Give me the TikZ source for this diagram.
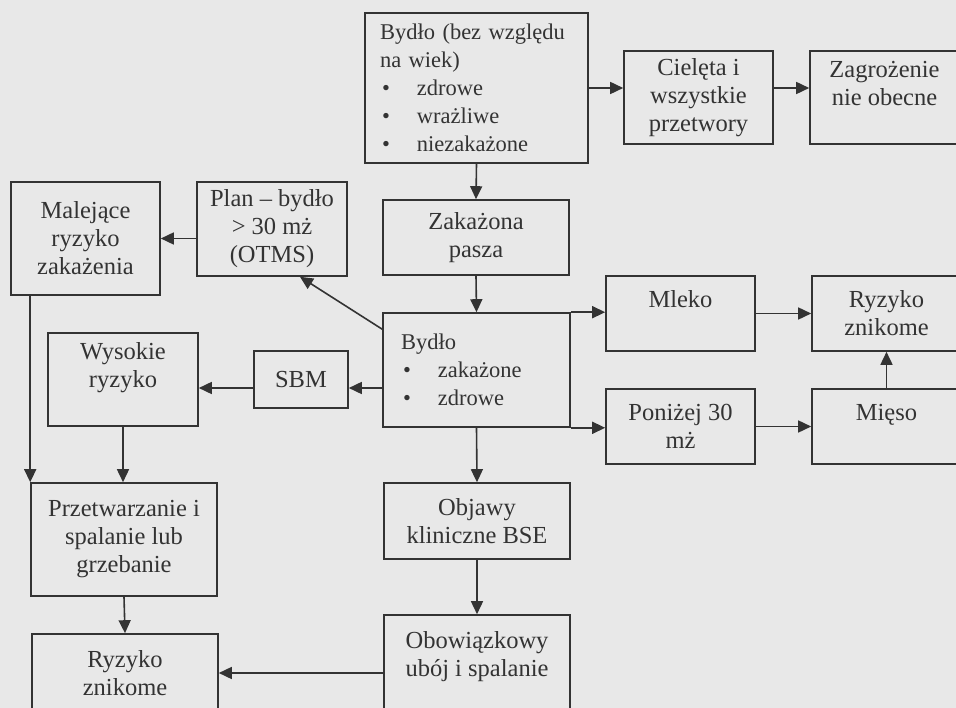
\documentclass[tikz,border=0pt]{standalone}
\usepackage{fontspec}
\setmainfont{Liberation Serif}
\usetikzlibrary{arrows.meta,calc}
\definecolor{papier}{gray}{0.91}
\definecolor{tusz}{gray}{0.2}
\newcommand{\pkt}{\makebox[37pt][l]{\hspace{2pt}\textbullet}}
\newcommand{\tekst}{\fontsize{24.5pt}{28pt}\selectfont}
\newcommand{\tekstmaly}{\fontsize{22.5pt}{28pt}\selectfont}

\begin{document}
\begin{tikzpicture}[x=1pt, y=-1pt, >={Triangle[length=13pt,width=12pt]},
  pole/.style={draw=tusz, line width=1.6pt, fill=papier, text=tusz, font=\tekst, align=center, inner sep=0pt},
  lista/.style={pole, font=\tekstmaly, align=left},
  strz/.style={->, draw=tusz, line width=1.6pt}]
  \clip (0,0) rectangle (956,708);
  \fill[papier] (0,0) rectangle (956,708);

  % srodkowa kolumna
  \node[lista, minimum width=223pt, minimum height=150pt, text width=193pt, inner xsep=15pt] (bydlo) at (476.5,88)
    {Bydło (bez względu\\na wiek)\\\pkt zdrowe\\\pkt wrażliwe\\\pkt niezakażone};
  \node[pole, minimum width=186pt, minimum height=75pt] (pasza) at (476,237.5) {Zakażona\\pasza};
  \node[lista, minimum width=187pt, minimum height=114pt, text width=151pt, inner xsep=18pt] (chore) at (476.5,370)
    {Bydło\\\pkt zakażone\\\pkt zdrowe};
  \node[pole, minimum width=186pt, minimum height=76pt] (objawy) at (477,521) {Objawy\\kliniczne BSE};
  \node[pole, minimum width=186pt, minimum height=106pt] (uboj) at (477,668) {Obowiązkowy\\ubój i spalanie\\\mbox{}};

  % prawa strona
  \node[pole, minimum width=149pt, minimum height=93pt] (cieleta) at (698.5,97.5) {Cielęta i\\wszystkie\\przetwory};
  \node[pole, minimum width=149pt, minimum height=93pt] (brak) at (884.5,97.5) {Zagrożenie\\nie obecne\\\mbox{}};
  \node[pole, minimum width=149pt, minimum height=75pt] (mleko) at (680.5,313.5) {Mleko\\\mbox{}};
  \node[pole, minimum width=149pt, minimum height=75pt] (znik1) at (886.5,313.5) {Ryzyko\\znikome};
  \node[pole, minimum width=149pt, minimum height=75pt] (mlode) at (680.5,426.5) {Poniżej 30\\mż};
  \node[pole, minimum width=149pt, minimum height=75pt] (mieso) at (886.5,426.5) {Mięso\\\mbox{}};

  % lewa strona
  \node[pole, minimum width=149pt, minimum height=113pt] (malej) at (85.5,238.5) {Malejące\\ryzyko\\zakażenia};
  \node[pole, minimum width=150pt, minimum height=94pt] (plan) at (272,229) {Plan – bydło\\> 30 mż\\(OTMS)};
  \node[pole, minimum width=94pt, minimum height=57pt] (sbm) at (301,379.5) {SBM};
  \node[pole, minimum width=150pt, minimum height=93pt] (wysokie) at (123,379.5) {Wysokie\\ryzyko\\\mbox{}};
  \node[pole, minimum width=186pt, minimum height=113pt] (spalanie) at (124,539.5) {Przetwarzanie i\\spalanie lub\\grzebanie};
  \node[pole, minimum width=186pt, minimum height=78pt] (znik2) at (125,673) {Ryzyko\\znikome};

  \draw[strz] (bydlo.east) -- (bydlo.east -| cieleta.west);
  \draw[strz] (cieleta.east |- bydlo.east) -- (brak.west |- bydlo.east);
  \draw[strz] (bydlo.south) -- (pasza.north);
  \draw[strz] (pasza.south) -- (chore.north);
  \draw[strz] (chore.north east) -- (chore.north east -| mleko.west);
  \draw[strz] (chore.south east) -- (chore.south east -| mlode.west);
  \draw[strz] (mleko.east) -- (znik1.west);
  \draw[strz] (mlode.east) -- (mieso.west);
  \draw[strz] (mieso.north) -- (znik1.south);
  \draw[strz] (chore.south) -- (objawy.north);
  \draw[strz] (objawy.south) -- (uboj.north);
  \draw[strz] (uboj.west |- znik2.east) -- (znik2.east);

  \draw[strz] ($(chore.north west)+(0,17)$) -- ($(plan.south)+(28,0)$);
  \draw[strz] (plan.west |- malej.east) -- (malej.east);
  \draw[strz] ($(chore.west)+(0,18)$) coordinate (s1) -- (s1 -| sbm.east);
  \draw[strz] (sbm.west |- s1) -- (wysokie.east |- s1);
  \draw[strz] (spalanie.north west |- malej.south) -- (spalanie.north west);
  \draw[strz] (wysokie.south) -- (wysokie.south |- spalanie.north);
  \draw[strz] (spalanie.south) -- (znik2.north);
\end{tikzpicture}
\end{document}
